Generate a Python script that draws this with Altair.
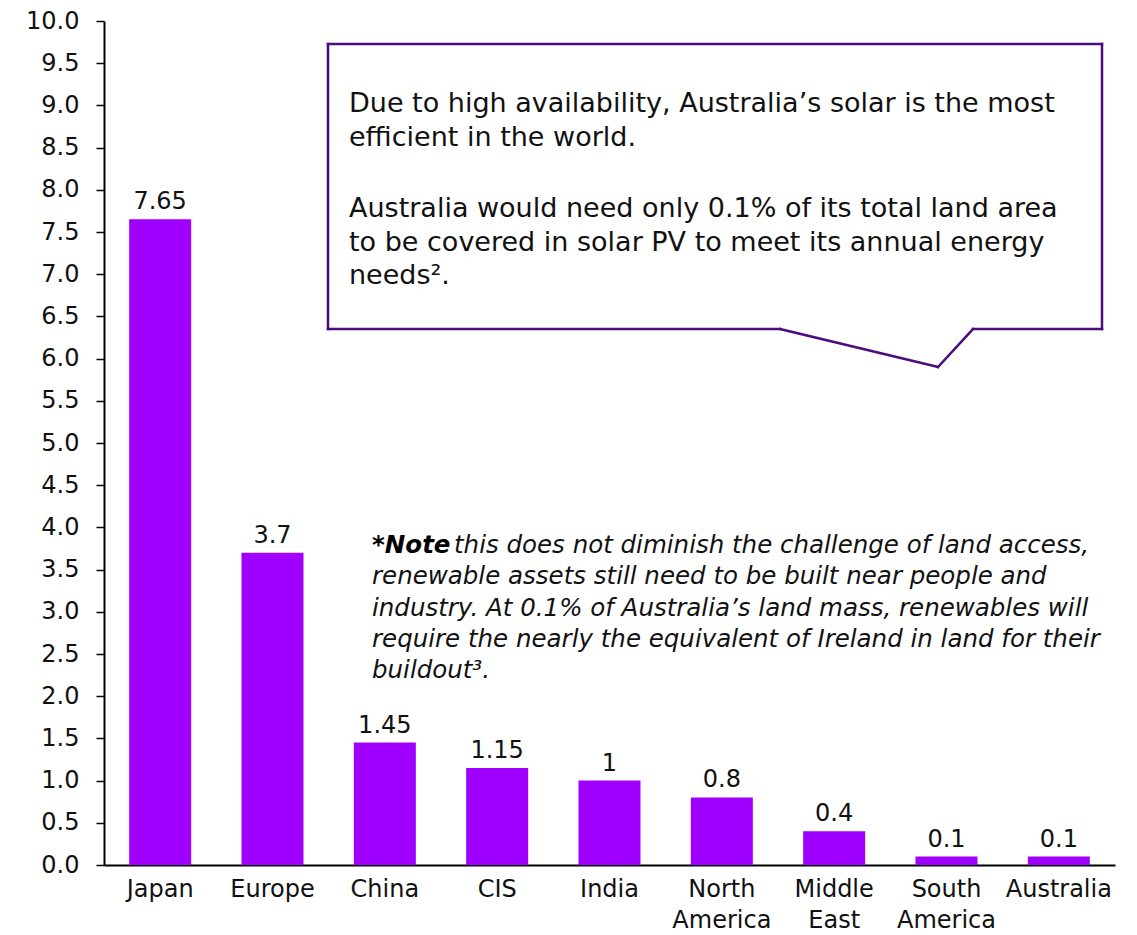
import altair as alt
import pandas as pd

regions = ["Japan", "Europe", "China", "CIS", "India", "North America",
           "Middle East", "South America", "Australia"]
values = [7.65, 3.7, 1.45, 1.15, 1, 0.8, 0.4, 0.1, 0.1]
value_labels = ["7.65", "3.7", "1.45", "1.15", "1", "0.8", "0.4", "0.1", "0.1"]
y_ticks = [0.0, 0.5, 1.0, 1.5, 2.0, 2.5, 3.0, 3.5, 4.0, 4.5, 5.0,
           5.5, 6.0, 6.5, 7.0, 7.5, 8.0, 8.5, 9.0, 9.5, 10.0]

callout_a = [
    "Due to high availability, Australia’s solar is the most",
    "efficient in the world.",
]
callout_b = [
    "Australia would need only 0.1% of its total land area",
    "to be covered in solar PV to meet its annual energy",
    "needs².",
]
note_head = "*Note"
note_first = "this does not diminish the challenge of land access,"
note_rest = [
    "renewable assets still need to be built near people and",
    "industry. At 0.1% of Australia’s land mass, renewables will",
    "require the nearly the equivalent of Ireland in land for their",
    "buildout³.",
]

FONT = "DejaVu Sans"
BAR = "#9F00FF"
LINE = "#4B0C7E"
W, H = 1011, 844

df = pd.DataFrame({"region": regions, "value": values, "label": value_labels})

x_enc = alt.X(
    "region:N", sort=regions, title=None,
    scale=alt.Scale(paddingInner=0.448, paddingOuter=0.224),
    axis=alt.Axis(labelAngle=0, ticks=False, labelPadding=12, labelFontSize=24,
                  labelFont=FONT, labelColor="#111", domainColor="#000",
                  domainWidth=2, labelLineHeight=31,
                  labelExpr="split(datum.value, ' ')"),
)
y_enc = alt.Y(
    "value:Q", title=None,
    scale=alt.Scale(domain=[0, 10], nice=False),
    axis=alt.Axis(values=y_ticks, format=".1f", grid=False, tickSize=8,
                  tickColor="#000", tickWidth=1.5, domainColor="#000",
                  domainWidth=2, labelPadding=17, labelFontSize=24,
                  labelFont=FONT, labelColor="#111"),
)

bars = alt.Chart(df).mark_bar(color=BAR).encode(x=x_enc, y=y_enc)
texts = alt.Chart(df).mark_text(
    baseline="alphabetic", dy=-10, fontSize=24, font=FONT, color="#111"
).encode(x=alt.X("region:N", sort=regions), y="value:Q", text="label:N")

one = pd.DataFrame({"k": [0]})

def seg(x1, y1, x2, y2):
    return alt.Chart(one).mark_rule(color=LINE, strokeWidth=2.5, strokeCap="square").encode(
        x=alt.value(x1), x2=alt.value(x2), y=alt.value(y1), y2=alt.value(y2))

L, R, T, B = 224, 998, 23, 308
segs = [
    seg(L, T, R, T), seg(L, T, L, B), seg(R, T, R, B),
    seg(L, B, 676, B), seg(676, B, 834, 346), seg(834, 346, 869, B), seg(869, B, R, B),
]

def block(lines, x, y, size, lh, **kw):
    return alt.Chart(one).mark_text(
        text=lines, align="left", baseline="alphabetic", fontSize=size,
        lineHeight=lh, font=FONT, **kw
    ).encode(x=alt.value(x), y=alt.value(y))

callout1 = block(callout_a, 245, 91, 27, 33.5, color="#111")
callout2 = block(callout_b, 245, 196, 27, 33.5, color="#111")

note_h = block(note_head, 268, 532, 24.5, 31.3, color="#000",
               fontStyle="italic", fontWeight="bold")
note_f = block(note_first, 350, 532, 24.5, 31.3, color="#111", fontStyle="italic")
note_r = block(note_rest, 268, 563.3, 24.5, 31.3, color="#111", fontStyle="italic")

chart = alt.layer(bars, texts, *segs, callout1, callout2, note_h, note_f, note_r).properties(
    width=W, height=H, background="white",
    autosize=alt.AutoSizeParams(type="none"),
    padding={"left": 104, "top": 21, "right": 22, "bottom": 70}
).configure_view(strokeWidth=0, strokeOpacity=0)

chart.save("out.html", embed_options={"renderer": "svg", "actions": False})
